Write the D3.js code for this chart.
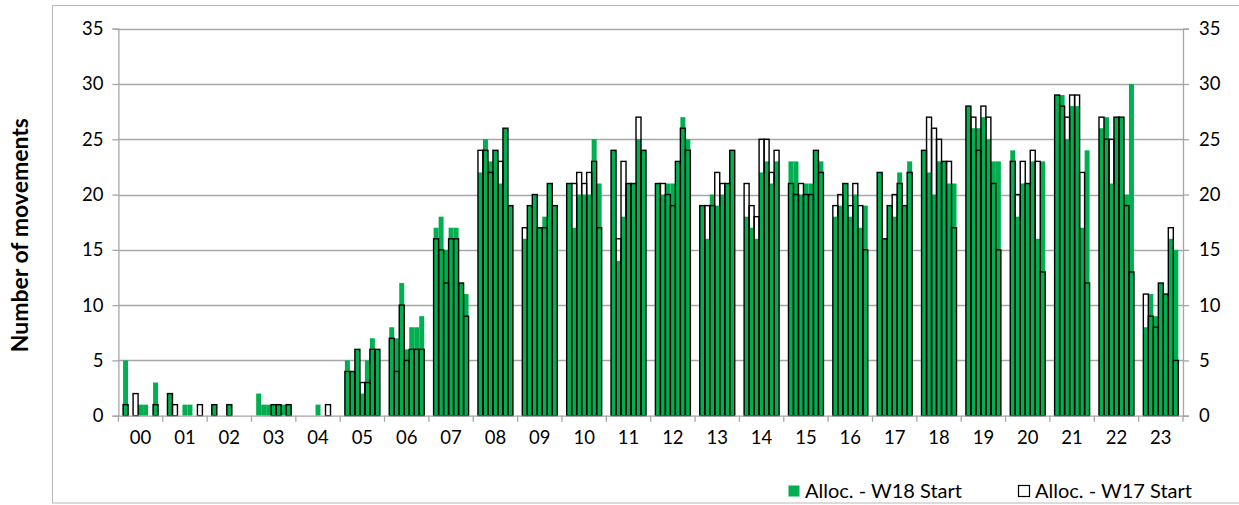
<!DOCTYPE html>
<html>
<head>
<meta charset="utf-8">
<script src="https://cdn.jsdelivr.net/npm/d3@7"></script>
<style>
  body { margin: 0; background: #fff; }
  text { font-family: Lato, "Open Sans", sans-serif; fill: #000; }
</style>
</head>
<body>
<div id="chart"></div>
<script>
// hour groups on the x axis, 7 slots inside every hour
const hours = ["00","01","02","03","04","05","06","07","08","09","10","11",
               "12","13","14","15","16","17","18","19","20","21","22","23"];
const slots = [0, 1, 2, 3, 4, 5, 6];
const yTicks = [0, 5, 10, 15, 20, 25, 30, 35];
const seriesNames = ["Alloc. - W18 Start", "Alloc. - W17 Start"];

// Alloc. - W18 Start (green bars), one row per hour
const w18 = [
  [5,0,0,1,1,0,3],
  [2,0,0,1,1,0,0],
  [1,0,0,1,0,0,0],
  [2,1,1,1,1,1,1],
  [0,0,0,1,0,0,0],
  [5,4,6,2,5,7,6],
  [8,7,12,6,8,8,9],
  [17,18,15,17,17,12,11],
  [22,25,23,24,21,26,19],
  [16,19,20,17,18,21,19],
  [21,17,20,20,20,25,21],
  [24,14,18,21,21,25,24],
  [21,20,21,21,23,27,25],
  [19,16,20,19,20,21,24],
  [18,17,16,22,23,21,23],
  [23,23,20,21,21,24,23],
  [18,19,21,18,20,17,19],
  [22,16,19,18,22,19,23],
  [24,22,20,23,23,21,21],
  [28,26,26,27,25,23,23],
  [24,18,21,21,23,16,23],
  [29,29,25,28,28,17,24],
  [26,27,21,27,27,20,30],
  [8,11,9,12,11,16,15]
];

// Alloc. - W17 Start (outlined bars), one row per hour
const w17 = [
  [1,0,2,0,0,0,1],
  [2,1,0,0,0,0,1],
  [1,0,0,1,0,0,0],
  [0,0,0,1,1,0,1],
  [0,0,0,0,0,1,0],
  [4,4,6,3,3,6,6],
  [7,4,10,5,6,6,6],
  [16,15,12,16,16,12,9],
  [24,24,22,24,23,26,19],
  [17,19,20,17,17,21,19],
  [21,21,22,21,22,23,17],
  [24,16,23,21,21,27,24],
  [21,21,20,19,23,26,24],
  [19,19,19,22,21,21,24],
  [21,19,18,25,25,22,24],
  [21,20,21,20,20,24,22],
  [19,20,21,19,21,19,15],
  [22,16,19,20,21,19,22],
  [24,27,26,25,23,23,17],
  [28,27,24,28,27,21,15],
  [23,20,23,21,24,23,13],
  [29,28,27,29,29,22,12],
  [27,25,25,27,27,19,13],
  [11,9,8,12,11,17,5]
];

const width = 1239;
const height = 505;
const margin = {top: 28.7, right: 56, bottom: 89, left: 118.4};
const green = "#00b050";
const gridColor = "#a6a6a6";

const svg = d3.select("#chart")
  .append("svg")
  .attr("width", width)
  .attr("height", height);

// outer frame of the chart area
svg.append("rect")
  .attr("x", 52.5)
  .attr("y", 5.5)
  .attr("width", width)
  .attr("height", 497.5)
  .attr("fill", "none")
  .attr("stroke", "#b8b8b8");

const x0 = d3.scaleBand()
  .domain(hours)
  .range([margin.left, width - margin.right]);

const x1 = d3.scaleBand()
  .domain(slots)
  .range([0, x0.bandwidth()])
  .paddingOuter(0.94);

const y = d3.scaleLinear()
  .domain([0, 35])
  .range([height - margin.bottom - 0.3, margin.top]);

// gridlines
svg.append("g")
  .selectAll("line")
  .data(yTicks.slice(1))
  .join("line")
  .attr("x1", margin.left)
  .attr("x2", width - margin.right)
  .attr("y1", d => Math.round(y(d)) + 0.5)
  .attr("y2", d => Math.round(y(d)) + 0.5)
  .attr("stroke", gridColor)
  .attr("stroke-width", 1.3);

const yAxisLeft = g =>
  g.attr("transform", `translate(${margin.left},0)`)
    .call(d3.axisLeft(y).tickValues(yTicks).tickSize(6).tickPadding(9))
    .call(g => g.selectAll("line, path").attr("stroke", gridColor).attr("stroke-width", 1.3))
    .call(g => g.selectAll("text").attr("font-size", 18.5).attr("fill", "#000"));

const yAxisRight = g =>
  g.attr("transform", `translate(${width - margin.right},0)`)
    .call(d3.axisRight(y).tickValues(yTicks).tickSize(6).tickPadding(10))
    .call(g => g.selectAll("line, path").attr("stroke", gridColor).attr("stroke-width", 1.3))
    .call(g => g.selectAll("text").attr("font-size", 18.5).attr("fill", "#000"));

svg.append("g").call(yAxisLeft);
svg.append("g").call(yAxisRight);

// bars: green W18, outlined W17 on top with no fill
const rows = hours.flatMap((h, i) => slots.map(s => ({hour: h, slot: s, a: w18[i][s], b: w17[i][s]})));

svg.append("g")
  .selectAll("rect")
  .data(rows.filter(d => d.a > 0))
  .join("rect")
  .attr("x", d => x0(d.hour) + x1(d.slot))
  .attr("y", d => y(d.a))
  .attr("width", x1.bandwidth())
  .attr("height", d => y(0) - y(d.a))
  .attr("fill", green);

svg.append("g")
  .selectAll("rect")
  .data(rows.filter(d => d.b > 0))
  .join("rect")
  .attr("x", d => x0(d.hour) + x1(d.slot))
  .attr("y", d => y(d.b))
  .attr("width", x1.bandwidth())
  .attr("height", d => y(0) - y(d.b))
  .attr("fill", "none")
  .attr("stroke", "#000")
  .attr("stroke-width", 1.4);

// x axis: baseline, hour boundary ticks, centered labels
const xAxis = g =>
  g.attr("transform", `translate(0,${y(0)})`)
    .call(d3.axisBottom(x0).tickSize(0).tickPadding(15))
    .call(g => g.select(".domain").attr("stroke", gridColor).attr("stroke-width", 1.3))
    .call(g => g.selectAll("text").attr("font-size", 18.5).attr("fill", "#000"))
    .call(g => g.selectAll(".bound")
      .data(hours.map(h => x0(h)).concat([x0.range()[1]]))
      .join("line")
      .attr("class", "bound")
      .attr("x1", d => d)
      .attr("x2", d => d)
      .attr("y1", 0)
      .attr("y2", 6)
      .attr("stroke", gridColor)
      .attr("stroke-width", 1.3));

svg.append("g").call(xAxis);

// y axis title
svg.append("text")
  .attr("transform", `translate(28,${(y(0) + y(35)) / 2 + 13}) rotate(-90)`)
  .attr("text-anchor", "middle")
  .attr("font-size", 23)
  .attr("font-weight", "bold")
  .text("Number of movements");

// legend
const legend = svg.append("g").attr("transform", "translate(788,485)");
const legendItems = [
  {name: seriesNames[0], x: 0, fill: green, stroke: "none"},
  {name: seriesNames[1], x: 230, fill: "#fff", stroke: "#000"}
];
const item = legend.selectAll("g")
  .data(legendItems)
  .join("g")
  .attr("transform", d => `translate(${d.x},0)`);
item.append("rect")
  .attr("x", 0.5)
  .attr("y", 0.5)
  .attr("width", 11)
  .attr("height", 11)
  .attr("fill", d => d.fill)
  .attr("stroke", d => d.stroke)
  .attr("stroke-width", 1.2);
item.append("text")
  .attr("x", 17)
  .attr("y", 13)
  .attr("font-size", 20)
  .text(d => d.name);
</script>
</body>
</html>
